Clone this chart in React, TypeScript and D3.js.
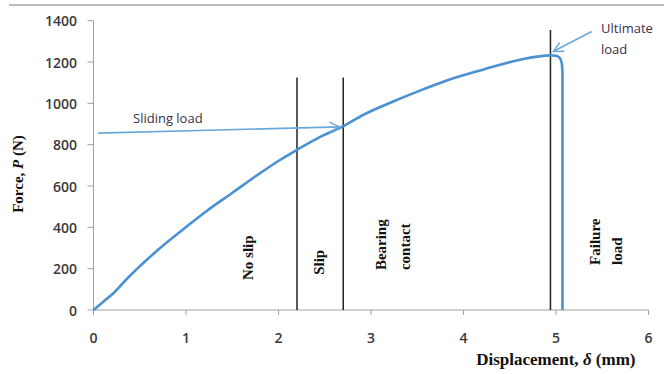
import React from 'react';
import * as d3 from 'd3';

// load-displacement curve
const displacement = [0, 0.1, 0.215, 0.36, 0.72, 1.01, 1.22, 1.51, 1.73, 2.02, 2.2, 2.45, 2.68, 2.92, 3.24, 3.57, 3.82, 4.21, 4.61, 4.94, 5.0, 5.04, 5.062, 5.07, 5.07];
const force = [0, 38, 81, 150, 300, 405, 478, 570, 640, 727, 775, 838, 885, 945, 1009, 1069, 1111, 1163, 1211, 1232, 1230, 1220, 1195, 1150, 0];

const xTicks = [0, 1, 2, 3, 4, 5, 6];
const yTicks = [0, 200, 400, 600, 800, 1000, 1200, 1400];

// stage boundaries (displacement, top force)
const stageLines = [2.2, 2.7, 4.94];
const stageTops = [1125, 1125, 1355];

// rotated stage labels: lines of text, displacement of each line, force where text starts
const stageLabels = ['No slip', 'Slip', 'Bearing', 'contact', 'Failure', 'load'];
const stageLabelX = [1.67, 2.44, 3.11, 3.37, 5.42, 5.66];
const stageLabelY = [145, 170, 193, 193, 218, 218];

const W = 664;
const H = 374;

export default function App() {
  const x = d3.scaleLinear().domain([0, 6]).range([93.5, 648.5]);
  const y = d3.scaleLinear().domain([0, 1400]).range([310, 20.7]);

  const pts: [number, number][] = displacement.map((d, i) => [d, force[i]]);
  // smooth rising part, then the straight drop at failure
  const rising = pts.slice(0, -1);
  const drop = pts.slice(-2);
  const smooth = d3.line<[number, number]>()
    .x(d => x(d[0]))
    .y(d => y(d[1]))
    .curve(d3.curveMonotoneX);
  const straight = d3.line<[number, number]>()
    .x(d => x(d[0]))
    .y(d => y(d[1]));

  const tickFont = { fontFamily: '"Open Sans", sans-serif', fontSize: 14, fontWeight: 600, fill: '#3a3a3a' };
  const serifBold = { fontFamily: '"Liberation Serif", "Times New Roman", serif', fontWeight: 700, fill: '#111' };
  const noteFont = { fontFamily: '"Open Sans", sans-serif', fontSize: 13, fill: '#3a3048' };
  const arrowColor = '#6aa8dc';

  return (
    <svg width={W} height={H} style={{ position: 'absolute', left: 0, top: 0, background: '#fff' }}>
      <defs>
        <marker id="arr" viewBox="0 0 12 12" refX="11" refY="6" markerWidth="12" markerHeight="12" markerUnits="userSpaceOnUse" orient="auto">
          <path d="M1,1 L11,6 L1,11" fill="none" stroke={arrowColor} strokeWidth={1.4} />
        </marker>
      </defs>

      {/* top rule */}
      <line x1={9} x2={W} y1={5} y2={5} stroke="#777" strokeWidth={1} />

      {/* axes */}
      <line x1={x(0)} x2={x(0)} y1={y(1400)} y2={y(0)} stroke="#a0a0a0" />
      <line x1={x(0)} x2={x(6)} y1={y(0)} y2={y(0)} stroke="#a0a0a0" />
      {yTicks.map(t => (
        <g key={'y' + t}>
          <line x1={x(0) - 6} x2={x(0)} y1={y(t)} y2={y(t)} stroke="#a0a0a0" />
          <text x={77} y={y(t)} textAnchor="end" dominantBaseline="central" style={tickFont}>{t}</text>
        </g>
      ))}
      {xTicks.map(t => (
        <g key={'x' + t}>
          <line x1={x(t)} x2={x(t)} y1={y(0)} y2={y(0) + 5} stroke="#a0a0a0" />
          <text x={x(t)} y={337} textAnchor="middle" dominantBaseline="central" style={tickFont}>{t}</text>
        </g>
      ))}

      {/* axis titles */}
      <text x={x(6) - 13} y={365} textAnchor="end" style={{ ...serifBold, fontSize: 17 }}>
        Displacement, <tspan fontStyle="italic">δ</tspan> (mm)
      </text>
      <text transform="translate(18,174) rotate(-90)" textAnchor="middle" dominantBaseline="central" style={{ ...serifBold, fontSize: 15 }}>
        Force, <tspan fontStyle="italic">P</tspan> (N)
      </text>

      {/* stage boundaries */}
      {stageLines.map((d, i) => (
        <line key={'s' + i} x1={x(d)} x2={x(d)} y1={y(stageTops[i])} y2={y(0)} stroke="#222" strokeWidth={1.5} />
      ))}

      {/* curve */}
      <path d={(smooth(rising) ?? '') + (straight(drop) ?? '').replace(/^M/, 'L')} fill="none" stroke="#4a90d2" strokeWidth={2.6} strokeLinejoin="round" />

      {/* stage labels */}
      {stageLabels.map((s, i) => (
        <text key={'l' + i} transform={`translate(${x(stageLabelX[i])},${y(stageLabelY[i])}) rotate(-90)`} dominantBaseline="central" style={{ ...serifBold, fontSize: 15 }}>
          {s}
        </text>
      ))}

      {/* annotations */}
      <line x1={x(0.05)} y1={y(856)} x2={x(2.66)} y2={y(886)} stroke={arrowColor} strokeWidth={1.6} markerEnd="url(#arr)" />
      <text x={133} y={123} style={noteFont}>Sliding load</text>

      <line x1={x(5.386)} y1={y(1348)} x2={x(4.97)} y2={y(1251)} stroke={arrowColor} strokeWidth={1.6} markerEnd="url(#arr)" />
      <text x={601} y={33} style={noteFont}>Ultimate</text>
      <text x={601} y={54} style={noteFont}>load</text>
    </svg>
  );
}
